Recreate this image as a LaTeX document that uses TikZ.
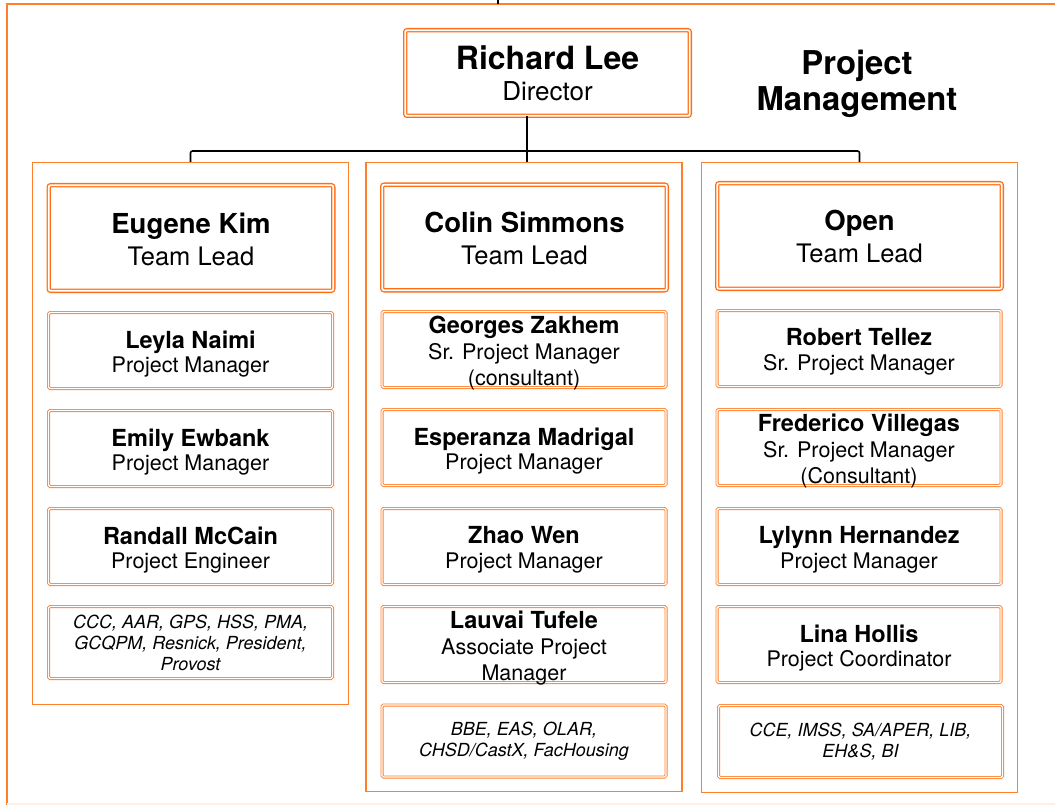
\documentclass[tikz,border=0pt]{standalone}
\usepackage{fontspec}
\setmainfont{TeX Gyre Heros}
\usetikzlibrary{positioning}
\definecolor{OrgOrange}{HTML}{FF7F2A}
\definecolor{OrgOrangeDeep}{HTML}{FF6E14}
\newcommand{\who}[1]{{\fontsize{23.5}{25}\bfseries\selectfont #1}}
\newcommand{\leadbox}[4]{%
  \node[draw=OrgOrangeDeep,double=white,double distance=1.8pt,line width=1.3pt,
        rounded corners=2pt,minimum width=284.6pt,minimum height=105.6pt,#4] (#1) {};%
  \node[align=center,font=\fontsize{25.5}{32}\selectfont,yshift=-1pt] (#1-text) at (#1)
        {{\fontsize{27.5}{32}\bfseries\selectfont #2}\\#3};%
}
\newcommand{\staffbox}[3]{%
  \node[draw=OrgOrange,double=white,double distance=1.4pt,line width=0.8pt,
        rounded corners=1.5pt,minimum width=284pt,minimum height=76pt,#3] (#1) {};%
  \node[align=center,font=\fontsize{21.5}{24.5}\selectfont,yshift=-3.5pt] (#1-text) at (#1) {#2};%
}
\newcommand{\clientbox}[3]{%
  \node[draw=OrgOrange,double=white,double distance=1.4pt,line width=0.8pt,
        rounded corners=1.5pt,minimum width=284pt,minimum height=72pt,#3] (#1) {};%
  \node[align=center,font=\fontsize{18}{21}\itshape\selectfont] (#1-text) at (#1) {#2};%
}

\begin{document}
\begin{tikzpicture}[x=1pt,y=-1pt,
    link/.style={draw=black,line width=1.6pt,rounded corners=2pt},
    column/.style={draw=OrgOrange,line width=1.1pt,minimum width=316pt}]
  \clip (0,0) rectangle (1055,805);
  % outer frame and feed from above
  \draw[OrgOrange,line width=1.5pt] (7,812) -- (7,4) -- (1070,4);
  \draw[OrgOrange!12,line width=1.5pt] (7,804) -- (1070,804);
  \coordinate (feed) at (498,-2);
  \coordinate (feedend) at (498,4);
  \draw[link] (feed) -- (feedend);

  % director
  \node[draw=OrgOrangeDeep,double=white,double distance=1.8pt,line width=1.3pt,
        rounded corners=2pt,minimum width=284.6pt,minimum height=85.6pt] (director) at (547.5,73) {};
  \node[align=center,font=\fontsize{26}{31}\selectfont] (director-text) at (director)
    {{\fontsize{32}{31}\bfseries\selectfont Richard Lee}\\Director};
  \node[align=center,font=\fontsize{32.8}{36}\bfseries\selectfont] (title) at (857,84) {Project\\Management};

  % team columns
  \node[column,minimum height=542pt] (col1) at (190.5,433.5) {};
  \node[column,minimum height=629pt] (col2) at (524,477) {};
  \node[column,minimum height=630pt] (col3) at (859.5,477.5) {};

  \coordinate (bus) at (527,151);
  \draw[link] (col1.north) |- (bus) -| (col3.north);
  \draw[link] (director.south -| bus) -- (col2.north -| bus);

  % team leads
  \leadbox{kim}{Eugene Kim}{Team Lead}{at={(191,238)}}
  \leadbox{simmons}{Colin Simmons}{Team Lead}{at={(524.5,237.5)}}
  \leadbox{open}{Open}{Team Lead}{at={(859.5,236)}}

  % first column
  \staffbox{naimi}{\who{Leyla Naimi}\\Project Manager}{at={(190.5,350.5)}}
  \staffbox{ewbank}{\who{Emily Ewbank}\\Project Manager}{at={(190.5,448.5)}}
  \staffbox{mccain}{\who{Randall McCain}\\Project Engineer}{at={(190.5,546.5)}}
  \clientbox{kimclients}{CCC, AAR, GPS, HSS, PMA,\\GCQPM, Resnick, President,\\Provost}{at={(190.5,642.5)}}

  % second column
  \staffbox{zakhem}{\who{Georges Zakhem}\\[1.5pt]Sr. Project Manager\\[1.5pt](consultant)}{at={(524,349.5)}}
  \staffbox{madrigal}{\who{Esperanza Madrigal}\\Project Manager}{at={(524,447.5)}}
  \staffbox{wen}{\who{Zhao Wen}\\Project Manager}{at={(524,546.5)}}
  \staffbox{tufele}{\who{Lauvai Tufele}\\[1.5pt]Associate Project\\[1.5pt]Manager}{at={(524,644.5)}}
  \clientbox{simmonsclients}{BBE, EAS, OLAR,\\CHSD/CastX, FacHousing}{at={(524,741)}}

  % third column
  \staffbox{tellez}{\who{Robert Tellez}\\Sr. Project Manager}{at={(859,348.5)}}
  \staffbox{villegas}{\who{Frederico Villegas}\\[1.5pt]Sr. Project Manager\\[1.5pt](Consultant)}{at={(859,447.5)}}
  \staffbox{hernandez}{\who{Lylynn Hernandez}\\Project Manager}{at={(859,546.5)}}
  \staffbox{hollis}{\who{Lina Hollis}\\Project Coordinator}{at={(859,644.5)}}
  \clientbox{openclients}{CCE, IMSS, SA/APER, LIB,\\EH\&S, BI}{at={(860.5,741.5)}}
\end{tikzpicture}
\end{document}
